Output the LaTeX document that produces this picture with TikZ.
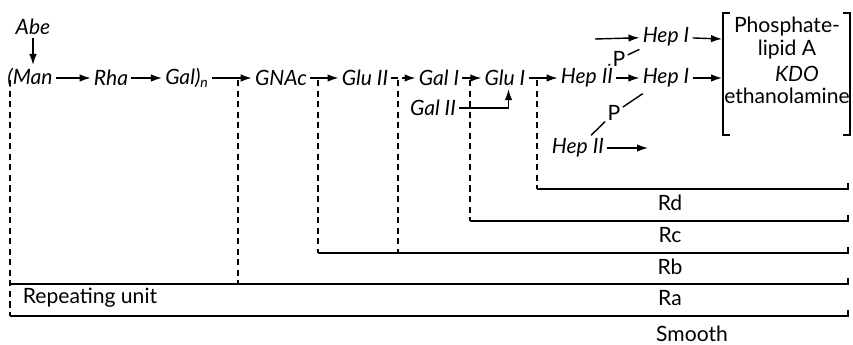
\documentclass[tikz,border=0pt]{standalone}
\usepackage{fontspec}
\setmainfont{Lato}
\usetikzlibrary{arrows.meta}

\tikzset{
  sucre/.style={font=\fontsize{12}{14}\selectfont\itshape, inner sep=1.5pt},
  texte/.style={font=\fontsize{12}{14}\selectfont},
  fl/.style={-{Latex[length=2.2mm,width=1.5mm]}},
  tiret/.style={dash pattern=on 3.5pt off 2.5pt},
}

\begin{document}
\begin{tikzpicture}[x=0.02cm, y=-0.02cm, thick, every node/.style={texte}]
\useasboundingbox (0,0) rectangle (853,345);

% Chaine principale
\node[sucre] (abe) at (33,27) {Abe};
\node[sucre] (man) at (30,78) {(Man};
\node[sucre] (rha) at (111,78) {Rha};
\node[sucre] (gal) at (187,78) {Gal)\textsubscript{n}};
\node[sucre] (gnac) at (281,78) {GNAc};
\node[sucre] (gluII) at (365,78) {Glu II};
\node[sucre] (galI) at (439,78) {Gal I};
\node[sucre] (gluI) at (505,78) {Glu I};
\node[sucre] (hepIIa) at (587,78) {Hep II};
\node[sucre] (hepIa) at (666,78) {Hep I};

% Branches
\node[sucre] (galII) at (433,108) {Gal II};
\node[sucre] (hepIb) at (666,37) {Hep I};
\node[sucre] (hepIIb) at (578,148) {Hep II};
\node[inner sep=1pt] (p1) at (619,59) {P};
\node[inner sep=1pt] (p2) at (614,113) {P};

% Noyau
\node (ph) at (787,27) {Phosphate-};
\node (lip) at (787,50) {lipid A};
\node[font=\fontsize{12}{14}\selectfont\itshape] (kdo) at (797,74) {KDO};
\node (eth) at (787,96) {ethanolamine};
\draw (730,13) -- (723,13) -- (723,135) -- (730,135);
\draw (843,13) -- (850,13) -- (850,135) -- (843,135);
\coordinate (cg1) at (722,39);
\coordinate (cg2) at (722,78);
\coordinate (dep) at (595,39);
\coordinate (fin) at (648,148);

% Liaisons
\draw[fl] (abe) -- (abe |- man.north);
\draw[fl] (man) -- (rha);
\draw[fl] (rha) -- (gal);
\draw[fl] (gal) -- (gnac);
\draw[fl] (gnac) -- (gluII);
\draw[fl, tiret] (gluII) -- (galI);
\draw[fl] (galI) -- (gluI);
\draw[fl] (gluI) -- (hepIIa);
\draw[fl] (hepIIa) -- (hepIa);
\draw[fl] (hepIa) -- (cg2);
\draw[fl] (hepIb) -- (cg1);
\draw[fl] (dep) -- (hepIb);
\draw[fl] (hepIIb) -- (fin);
\draw[fl] (galII) -| ([xshift=2pt]gluI.south);
\draw (hepIIa) -- (p1) -- (hepIb);
\draw[shorten >=3pt] (p2) -- (hepIa);
\draw (p2) -- (hepIIb);

% Coupures
\foreach \x/\y/\nom in {537/189/Rd, 470/221/Rc, 318/253/Rb, 10/284/Ra, 10/316/} {
  \draw[tiret] (\x,80) -- (\x,\y);
  \draw (\x,\y) -- (848,\y) -- (848,\y-6);
  \node at (670,\y+14) {\nom};
}
\draw[tiret] (398,80) -- (398,253);
\draw[tiret] (238,80) -- (238,284);
\node at (90,298) {Repeating unit};
\node at (692,334) {Smooth};

\end{tikzpicture}
\end{document}
